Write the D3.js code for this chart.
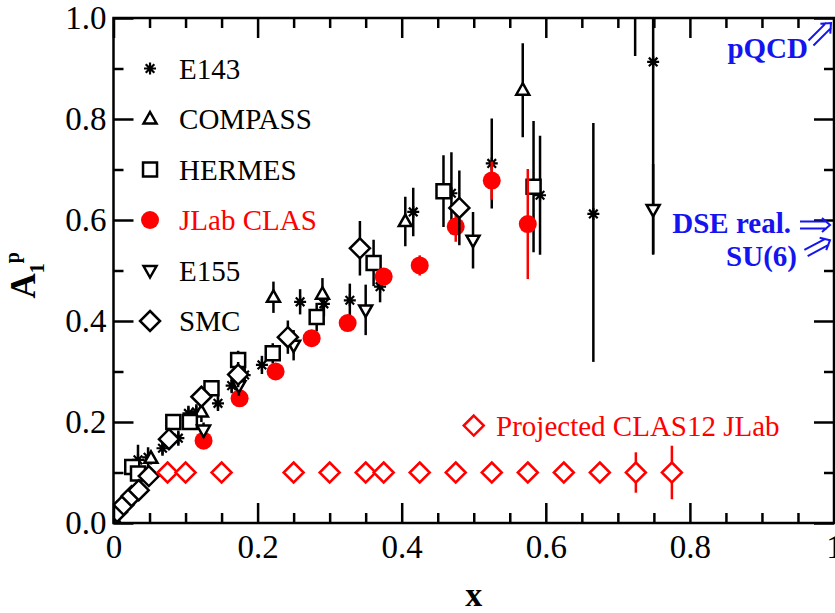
<!DOCTYPE html>
<html>
<head>
<meta charset="utf-8">
<script src="https://cdn.jsdelivr.net/npm/d3@7"></script>
<style>
  body { margin: 0; background: #fff; }
  svg { display: block; }
</style>
</head>
<body>
<div id="chart"></div>
<script>
// ---- data ----
const e143X   = [0.034, 0.048, 0.068, 0.090, 0.104, 0.115, 0.145, 0.164, 0.182, 0.206, 0.259, 0.292, 0.328, 0.370, 0.416, 0.469, 0.525, 0.592, 0.666, 0.724, 0.749];
const e143Y   = [0.125, 0.130, 0.148, 0.168, 0.217, 0.220, 0.237, 0.272, 0.293, 0.313, 0.438, 0.434, 0.441, 0.468, 0.616, 0.653, 0.712, 0.649, 0.612, 1.250, 0.913];
const e143Lo  = [0.030, 0.020, 0.015, 0.015, 0.015, 0.015, 0.015, 0.015, 0.015, 0.018, 0.025, 0.025, 0.033, 0.031, 0.048, 0.081, 0.089, 0.118, 0.293, 0.325, 0.380];
const e143Hi  = [0.030, 0.020, 0.015, 0.015, 0.015, 0.015, 0.015, 0.015, 0.015, 0.018, 0.025, 0.025, 0.033, 0.031, 0.048, 0.081, 0.089, 0.118, 0.180, 0.325, 0.380];

const compassX   = [0.003, 0.052, 0.122, 0.222, 0.290, 0.405, 0.568];
const compassY   = [0.003, 0.128, 0.220, 0.447, 0.453, 0.597, 0.857];
const compassErr = [0.005, 0.012, 0.020, 0.031, 0.032, 0.049, 0.093];

const hermesX   = [0.026, 0.034, 0.083, 0.106, 0.136, 0.173, 0.221, 0.282, 0.361, 0.458, 0.583];
const hermesY   = [0.111, 0.098, 0.200, 0.200, 0.267, 0.323, 0.336, 0.408, 0.515, 0.657, 0.666];
const hermesErr = [0.012, 0.010, 0.012, 0.012, 0.015, 0.018, 0.020, 0.028, 0.046, 0.071, 0.130];

const clasX   = [0.125, 0.175, 0.225, 0.275, 0.325, 0.375, 0.425, 0.475, 0.525, 0.575];
const clasY   = [0.163, 0.247, 0.300, 0.366, 0.396, 0.488, 0.510, 0.587, 0.678, 0.592];
const clasErr = [0.010, 0.010, 0.010, 0.012, 0.014, 0.016, 0.020, 0.030, 0.038, 0.109];

const e155X   = [0.125, 0.174, 0.250, 0.350, 0.499, 0.749];
const e155Y   = [0.184, 0.272, 0.352, 0.422, 0.560, 0.621];
const e155Err = [0.015, 0.020, 0.030, 0.050, 0.056, 0.090];

const smcX   = [0.005, 0.014, 0.025, 0.035, 0.049, 0.077, 0.122, 0.173, 0.242, 0.342, 0.480];
const smcY   = [0.022, 0.036, 0.053, 0.065, 0.093, 0.166, 0.250, 0.294, 0.368, 0.544, 0.624];
const smcErr = [0.005, 0.006, 0.008, 0.010, 0.012, 0.015, 0.020, 0.025, 0.033, 0.054, 0.074];

const projX   = [0.075, 0.100, 0.150, 0.250, 0.300, 0.350, 0.375, 0.425, 0.475, 0.525, 0.575, 0.625, 0.675, 0.725, 0.775];
const projY   = [0.100, 0.100, 0.100, 0.100, 0.100, 0.100, 0.100, 0.100, 0.100, 0.100, 0.100, 0.100, 0.100, 0.100, 0.100];
const projErr = [0.005, 0.005, 0.005, 0.005, 0.005, 0.005, 0.005, 0.005, 0.005, 0.005, 0.005, 0.006, 0.008, 0.040, 0.053];

const xMajorTicks = [0, 0.2, 0.4, 0.6, 0.8, 1];
const xTickLabels = ["0", "0.2", "0.4", "0.6", "0.8", "1"];
const xMinorTicks = [0.05, 0.1, 0.15, 0.25, 0.3, 0.35, 0.45, 0.5, 0.55, 0.65, 0.7, 0.75, 0.85, 0.9, 0.95];
const yMajorTicks = [0, 0.2, 0.4, 0.6, 0.8, 1];
const yTickLabels = ["0.0", "0.2", "0.4", "0.6", "0.8", "1.0"];
const yMinorTicks = [0.1, 0.3, 0.5, 0.7, 0.9];

const legendNames  = ["E143", "COMPASS", "HERMES", "JLab CLAS", "E155", "SMC"];
const legendLevels = [0.9, 0.8, 0.7, 0.6, 0.5, 0.4];

// ---- layout ----
const width = 835, height = 613;
const margin = { top: 18, right: 1, bottom: 90, left: 113.5 };
const serif = "'Liberation Serif', 'Times New Roman', serif";
const RED = "#ff0000", BLUE = "#1414f0";

const x = d3.scaleLinear().domain([0, 1]).range([margin.left, width - margin.right]);
const y = d3.scaleLinear().domain([0, 1]).range([height - margin.bottom, margin.top]);

const svg = d3.select("#chart").append("svg")
    .attr("width", width)
    .attr("height", height)
    .attr("viewBox", `0 0 ${width} ${height}`);

svg.append("defs").append("clipPath").attr("id", "plot-clip")
    .append("rect")
    .attr("x", x(0)).attr("y", y(1))
    .attr("width", x(1) - x(0)).attr("height", y(0) - y(1));

// symbol shapes (paths centred on 0,0)
const shapes = {
    star: "M-6,0H6M0,-6V6M-4.3,-4.3L4.3,4.3M-4.3,4.3L4.3,-4.3",
    triUp: "M0,-7L6.5,4.5L-6.5,4.5Z",
    square: "M-7,-7H7V7H-7Z",
    triDown: "M0,7L6.5,-4.5L-6.5,-4.5Z",
    diamond: "M0,-10L10,0L0,10L-10,0Z"
};

function drawSymbol(g, shape, color, cx, cy) {
    if (shape === "circle") {
        g.append("circle").attr("cx", cx).attr("cy", cy).attr("r", 9).attr("fill", color);
    } else {
        g.append("path")
            .attr("d", shapes[shape])
            .attr("transform", `translate(${cx},${cy})`)
            .attr("fill", shape === "star" ? "none" : "#fff")
            .attr("stroke", color)
            .attr("stroke-width", shape === "star" ? 2.2 : 2.5)
            .attr("stroke-linejoin", "miter");
    }
}

const plot = svg.append("g").attr("clip-path", "url(#plot-clip)");

function drawSeries(xs, ys, lo, hi, shape, color) {
    const g = plot.append("g");
    const pts = xs.map((d, i) => ({ x: d, y: ys[i], lo: lo[i], hi: hi[i] }));
    g.selectAll("line.err").data(pts).enter().append("line")
        .attr("class", "err")
        .attr("x1", d => x(d.x)).attr("x2", d => x(d.x))
        .attr("y1", d => y(d.y - d.lo)).attr("y2", d => y(d.y + d.hi))
        .attr("stroke", color).attr("stroke-width", 2.5);
    pts.forEach(d => drawSymbol(g, shape, color, x(d.x), y(d.y)));
}

drawSeries(e143X, e143Y, e143Lo, e143Hi, "star", "#000");
drawSeries(compassX, compassY, compassErr, compassErr, "triUp", "#000");
drawSeries(hermesX, hermesY, hermesErr, hermesErr, "square", "#000");
drawSeries(clasX, clasY, clasErr, clasErr, "circle", RED);
drawSeries(e155X, e155Y, e155Err, e155Err, "triDown", "#000");
drawSeries(smcX, smcY, smcErr, smcErr, "diamond", "#000");
drawSeries(projX, projY, projErr, projErr, "diamond", RED);

// ---- axes: inward ticks on all four sides ----
function styleAxis(g) {
    g.select(".domain").remove();
    g.attr("font-family", null).attr("font-size", null);
    g.selectAll("line").attr("stroke", "#000").attr("stroke-width", 2.5);
    g.selectAll("text").attr("fill", "#000").style("font-family", serif).style("font-size", "33px");
}

svg.append("g").attr("transform", `translate(0,${y(0)})`)
    .call(d3.axisBottom(x).tickValues(xMajorTicks).tickSize(-20).tickSizeOuter(0).tickPadding(12)
        .tickFormat((d, i) => xTickLabels[i]))
    .call(styleAxis);
svg.append("g").attr("transform", `translate(0,${y(0)})`)
    .call(d3.axisBottom(x).tickValues(xMinorTicks).tickSize(-10).tickSizeOuter(0).tickFormat(""))
    .call(styleAxis);
svg.append("g").attr("transform", `translate(0,${y(1)})`)
    .call(d3.axisTop(x).tickValues(xMajorTicks).tickSize(-20).tickSizeOuter(0).tickFormat(""))
    .call(styleAxis);
svg.append("g").attr("transform", `translate(0,${y(1)})`)
    .call(d3.axisTop(x).tickValues(xMinorTicks).tickSize(-10).tickSizeOuter(0).tickFormat(""))
    .call(styleAxis);

svg.append("g").attr("transform", `translate(${x(0)},0)`)
    .call(d3.axisLeft(y).tickValues(yMajorTicks).tickSize(-20).tickSizeOuter(0).tickPadding(7)
        .tickFormat((d, i) => yTickLabels[i]))
    .call(styleAxis);
svg.append("g").attr("transform", `translate(${x(0)},0)`)
    .call(d3.axisLeft(y).tickValues(yMinorTicks).tickSize(-10).tickSizeOuter(0).tickFormat(""))
    .call(styleAxis);
svg.append("g").attr("transform", `translate(${x(1)},0)`)
    .call(d3.axisRight(y).tickValues(yMajorTicks).tickSize(-20).tickSizeOuter(0).tickFormat(""))
    .call(styleAxis);
svg.append("g").attr("transform", `translate(${x(1)},0)`)
    .call(d3.axisRight(y).tickValues(yMinorTicks).tickSize(-10).tickSizeOuter(0).tickFormat(""))
    .call(styleAxis);

svg.append("rect")
    .attr("x", x(0)).attr("y", y(1))
    .attr("width", x(1) - x(0)).attr("height", y(0) - y(1))
    .attr("fill", "none").attr("stroke", "#000").attr("stroke-width", 2.5);

// ---- axis titles ----
svg.append("text")
    .attr("x", (x(0) + x(1)) / 2).attr("y", 606)
    .attr("text-anchor", "middle")
    .style("font-family", serif).style("font-size", "34px").style("font-weight", "bold")
    .text("x");

const yTitle = svg.append("text")
    .attr("transform", `translate(35,${(y(0) + y(1)) / 2 + 28}) rotate(-90)`)
    .style("font-family", serif).style("font-weight", "bold");
yTitle.append("tspan").style("font-size", "35px").text("A");
yTitle.append("tspan").style("font-size", "20px").attr("dy", 9).text("1");
yTitle.append("tspan").style("font-size", "20px").attr("dy", -25).text("p");

// ---- legend ----
const legendShapes = ["star", "triUp", "square", "circle", "triDown", "diamond"];
const legend = svg.append("g");
legendNames.forEach((name, i) => {
    const cy = y(legendLevels[i]);
    const color = name === "JLab CLAS" ? RED : "#000";
    drawSymbol(legend, legendShapes[i], color, x(0.0507), cy);
    legend.append("text")
        .attr("x", x(0.091)).attr("y", cy + 10)
        .attr("fill", color)
        .style("font-family", serif).style("font-size", "29px")
        .text(name);
});

drawSymbol(legend, "diamond", RED, x(0.5), y(0.193));
legend.append("text")
    .attr("x", x(0.531)).attr("y", y(0.193) + 10)
    .attr("fill", RED)
    .style("font-family", serif).style("font-size", "29px")
    .text("Projected CLAS12 JLab");

// ---- theory annotations ----
function doubleArrow(x1, y1, x2, y2) {
    const a = Math.atan2(y2 - y1, x2 - x1);
    const nx = -Math.sin(a) * 3.5, ny = Math.cos(a) * 3.5;
    const bx = x2 - Math.cos(a) * 3, by = y2 - Math.sin(a) * 3;
    const hx = Math.cos(a) * 8, hy = Math.sin(a) * 8;
    const p = d3.path();
    p.moveTo(x1 + nx, y1 + ny); p.lineTo(bx + nx, by + ny);
    p.moveTo(x1 - nx, y1 - ny); p.lineTo(bx - nx, by - ny);
    p.moveTo(x2 - hx + nx * 2, y2 - hy + ny * 2); p.lineTo(x2, y2); p.lineTo(x2 - hx - nx * 2, y2 - hy - ny * 2);
    svg.append("path").attr("d", p.toString())
        .attr("fill", "none").attr("stroke", BLUE).attr("stroke-width", 2);
}

const notes = svg.append("g")
    .attr("fill", BLUE)
    .style("font-family", serif).style("font-size", "29px").style("font-weight", "bold");
notes.append("text").attr("x", 808).attr("y", 58).attr("text-anchor", "end").text("pQCD");
notes.append("text").attr("x", 791).attr("y", 233).attr("text-anchor", "end").text("DSE real.");
notes.append("text").attr("x", 797).attr("y", 266).attr("text-anchor", "end").text("SU(6)");

doubleArrow(811, 43, x(1) - 3, y(1) + 5);
doubleArrow(800, y(0.59), x(1) - 4, y(0.59));
doubleArrow(806, 253, x(1) - 4, y(0.56));
</script>
</body>
</html>
